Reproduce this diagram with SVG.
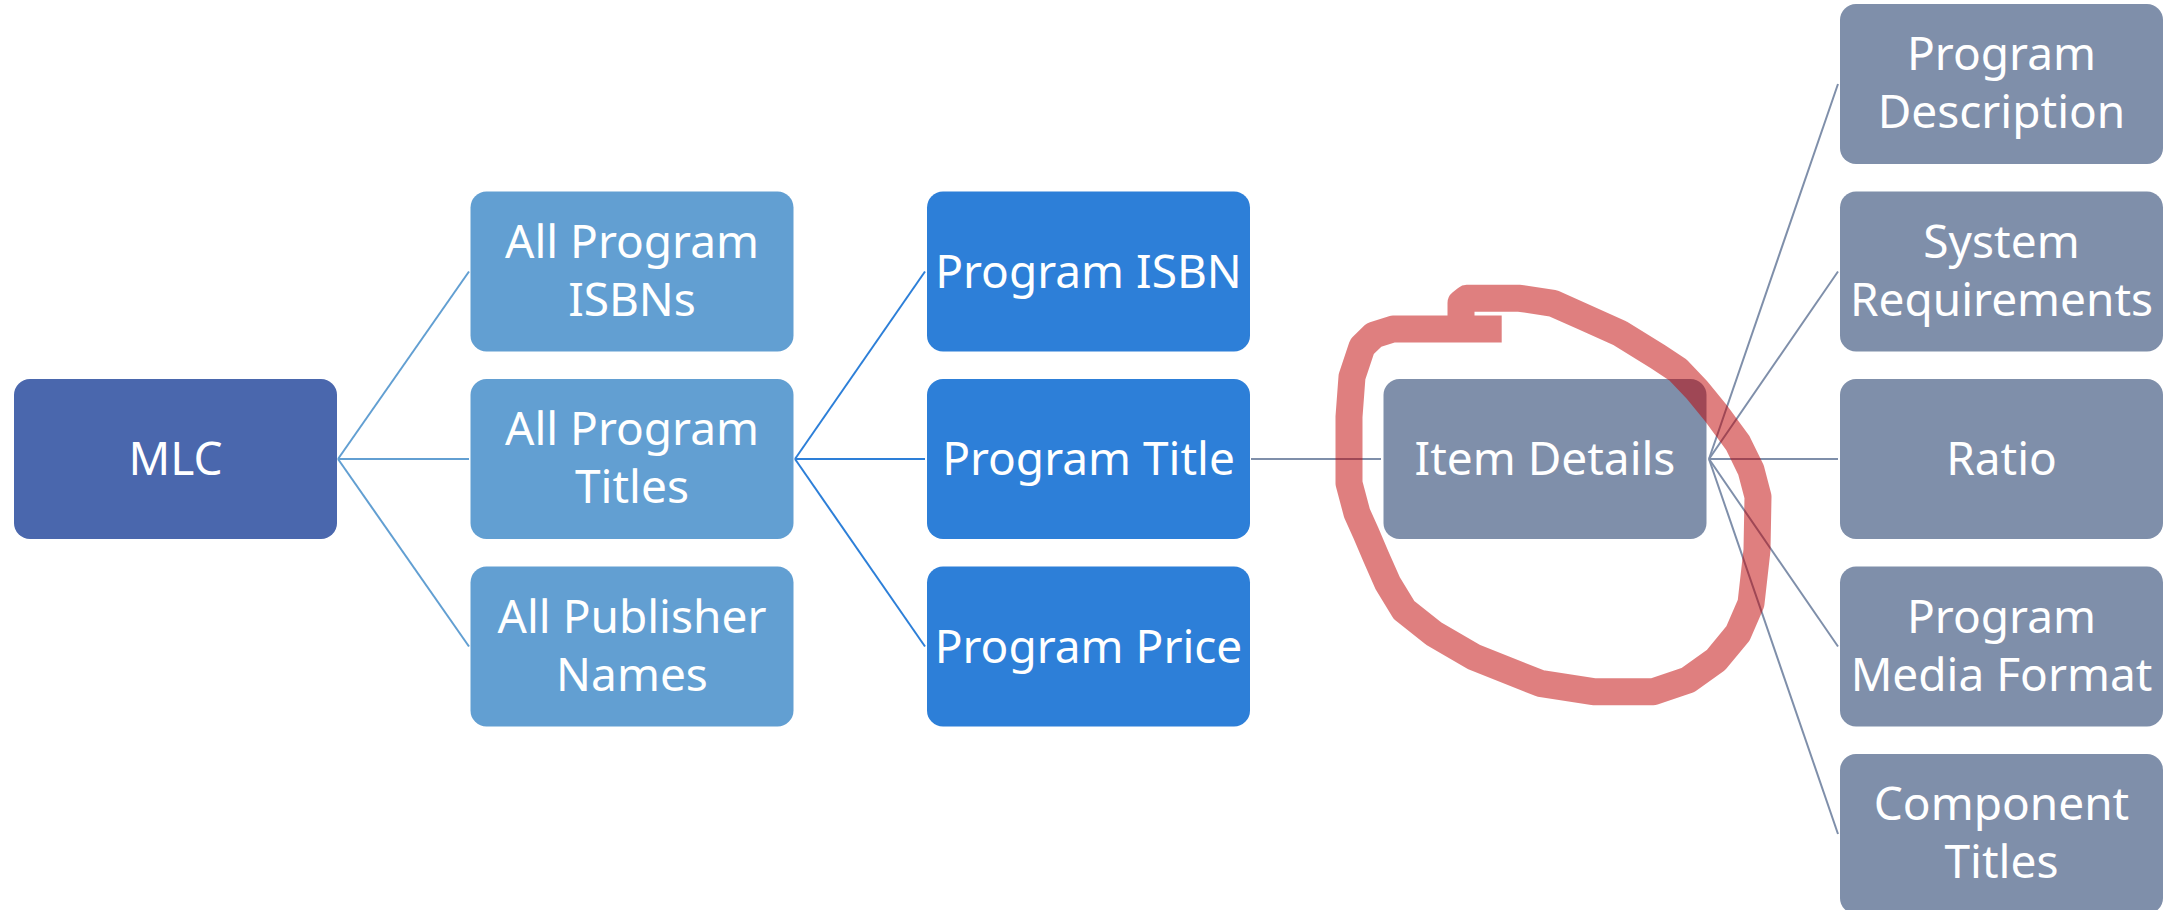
<svg xmlns="http://www.w3.org/2000/svg" width="2177" height="910" viewBox="0 0 2177 910">
<style>
.lbl{font-family:"Noto Sans","Open Sans","Liberation Sans",sans-serif;font-size:46px;fill:#ffffff;text-anchor:middle}
.c1{fill:#4a67ad}
.c2{fill:#629fd2}
.c3{fill:#2d7fd8}
.c4{fill:#7f8faa}
.l1{stroke:#629fd2;stroke-width:2;fill:none}
.l2{stroke:#2d7fd8;stroke-width:2;fill:none}
.l3{stroke:#7f8faa;stroke-width:2;fill:none}
</style>
<rect width="2177" height="910" fill="#ffffff"/>
<g id="connectors">
<line class="l1" x1="338" y1="459" x2="469" y2="271.5"/>
<line class="l1" x1="338" y1="459" x2="469" y2="459"/>
<line class="l1" x1="338" y1="459" x2="469" y2="646.5"/>
<line class="l2" x1="795" y1="459" x2="925" y2="271.5"/>
<line class="l2" x1="795" y1="459" x2="925" y2="459"/>
<line class="l2" x1="795" y1="459" x2="925" y2="646.5"/>
<line class="l3" x1="1251" y1="459" x2="1381" y2="459"/>
<line class="l3" x1="1709" y1="459" x2="1838" y2="84"/>
<line class="l3" x1="1709" y1="459" x2="1838" y2="271.5"/>
<line class="l3" x1="1709" y1="459" x2="1838" y2="459"/>
<line class="l3" x1="1709" y1="459" x2="1838" y2="646.5"/>
<line class="l3" x1="1709" y1="459" x2="1838" y2="834"/>
</g>
<g id="mlc"><rect class="c1" x="14" y="379" width="323" height="160" rx="16"/><text class="lbl" x="175.5" y="475">MLC</text></g>
<g id="all-program-isbns"><rect class="c2" x="470.5" y="191.5" width="323" height="160" rx="16"/><text class="lbl" x="632" y="257.5">All Program</text><text class="lbl" x="632" y="315.5">ISBNs</text></g>
<g id="all-program-titles"><rect class="c2" x="470.5" y="379" width="323" height="160" rx="16"/><text class="lbl" x="632" y="445">All Program</text><text class="lbl" x="632" y="503">Titles</text></g>
<g id="all-publisher-names"><rect class="c2" x="470.5" y="566.5" width="323" height="160" rx="16"/><text class="lbl" x="632" y="632.5">All Publisher</text><text class="lbl" x="632" y="690.5">Names</text></g>
<g id="program-isbn"><rect class="c3" x="927" y="191.5" width="323" height="160" rx="16"/><text class="lbl" x="1088.5" y="287.5">Program ISBN</text></g>
<g id="program-title"><rect class="c3" x="927" y="379" width="323" height="160" rx="16"/><text class="lbl" x="1088.5" y="475">Program Title</text></g>
<g id="program-price"><rect class="c3" x="927" y="566.5" width="323" height="160" rx="16"/><text class="lbl" x="1088.5" y="662.5">Program Price</text></g>
<g id="item-details"><rect class="c4" x="1383.5" y="379" width="323" height="160" rx="16"/><text class="lbl" x="1545" y="475">Item Details</text></g>
<g id="program-description"><rect class="c4" x="1840" y="4" width="323" height="160" rx="16"/><text class="lbl" x="2001.5" y="70">Program</text><text class="lbl" x="2001.5" y="128">Description</text></g>
<g id="system-requirements"><rect class="c4" x="1840" y="191.5" width="323" height="160" rx="16"/><text class="lbl" x="2001.5" y="257.5">System</text><text class="lbl" x="2001.5" y="315.5">Requirements</text></g>
<g id="ratio"><rect class="c4" x="1840" y="379" width="323" height="160" rx="16"/><text class="lbl" x="2001.5" y="475">Ratio</text></g>
<g id="program-media-format"><rect class="c4" x="1840" y="566.5" width="323" height="160" rx="16"/><text class="lbl" x="2001.5" y="632.5">Program</text><text class="lbl" x="2001.5" y="690.5">Media Format</text></g>
<g id="component-titles"><rect class="c4" x="1840" y="754" width="323" height="160" rx="16"/><text class="lbl" x="2001.5" y="820">Component</text><text class="lbl" x="2001.5" y="878">Titles</text></g>
<path id="ink" d="M1501.7,329 L1393,329 L1374,335 L1362,346.7 L1352,376.7 L1349,416.7 L1349,483.3 L1357,513.3 L1366,533.3 L1376,556.7 L1387.7,583.3 L1404,610 L1433.3,633.3 L1473.3,656.7 L1540,683.3 L1593.3,691.7 L1653.3,691.7 L1688,680 L1716,660 L1738,633.3 L1751,603.3 L1757,550 L1758,496.7 L1751,470 L1738,443.3 L1716,413.3 L1697,390 L1678,370 L1658,356.7 L1620,333.3 L1583.3,316.7 L1553.3,303.3 L1520,298.3 L1466.7,298.3 L1461,303 L1461,318" fill="none" stroke="#c00000" stroke-opacity="0.5" stroke-width="27" stroke-linejoin="round" stroke-linecap="butt"/>
</svg>
